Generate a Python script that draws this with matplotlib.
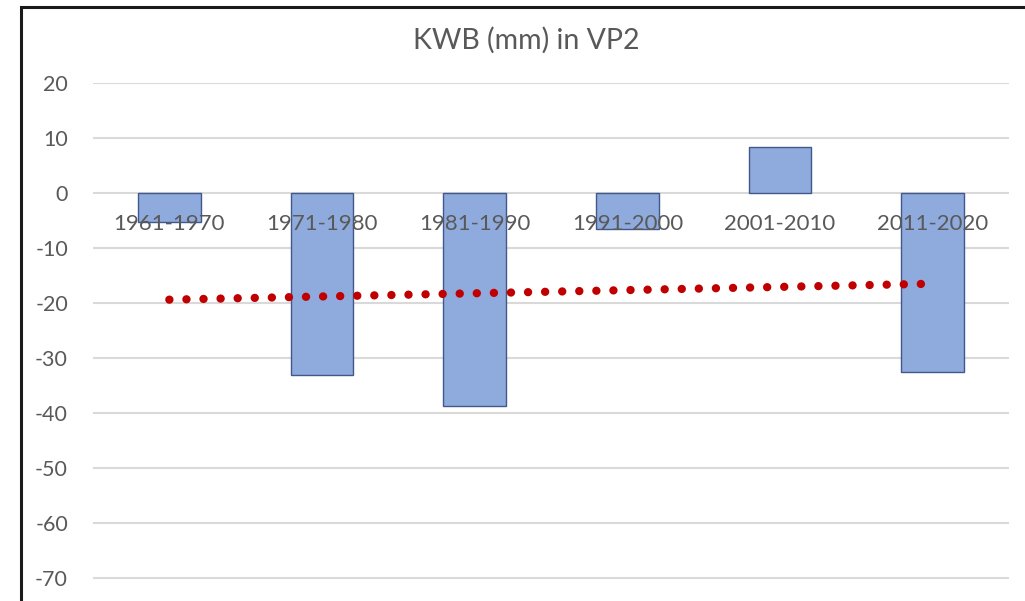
import numpy as np
import matplotlib
matplotlib.use("Agg")
from matplotlib import pyplot as plt
from matplotlib.patches import Rectangle

plt.rcParams['font.family'] = ['Lato', 'DejaVu Sans']

decades = ["1961-1970", "1971-1980", "1981-1990", "1991-2000", "2001-2010", "2011-2020"]
kwb = [-5.2, -33.1, -38.8, -6.5, 8.4, -32.5]
yticks = [20, 10, 0, -10, -20, -30, -40, -50, -60, -70]

x = np.arange(1, len(decades) + 1)
slope, inter = np.polyfit(x, kwb, 1)
trend = slope * x + inter

fig = plt.figure(figsize=(10.25, 6.01), dpi=100)
ax = fig.add_axes([93 / 1025, 0, (1009 - 93) / 1025, 1 - 83 / 601])

ax.bar(x, kwb, width=0.41, color="#8FAADC", edgecolor="#41588A", linewidth=1.0, zorder=3)
ax.plot(x, trend, color="#C00000", linewidth=6.0, linestyle=(0, (0.01, 2.04)),
        dash_capstyle="round", zorder=4)

# category labels sit on the zero line, drawn over the bars
for xi, lab in zip(x, decades):
    ax.text(xi, -5.6, lab, ha="center", va="center", fontsize=16,
            color="#595959", zorder=5)

ax.set_xlim(0.5, len(decades) + 0.5)
ax.set_ylim(-74.2, 20)
ax.set_yticks(yticks)
ax.set_yticklabels([str(v) for v in yticks])
ax.set_xticks([])
ax.grid(axis="y", color="#D9D9D9", linewidth=1.5, zorder=0)
for s in ax.spines.values():
    s.set_visible(False)
ax.tick_params(axis="both", length=0, labelsize=15.5, labelcolor="#595959")
ax.tick_params(axis="y", pad=18)

fig.text(526 / 1025, 1 - 40 / 601, "KWB (mm) in VP2", ha="center", va="center",
         fontsize=20.5, color="#595959")

fig.patches.append(Rectangle((21 / 1025, -0.1), 1.0, 1.1 - 7 / 601,
                             transform=fig.transFigure, fill=False,
                             edgecolor="#1A1A1A", linewidth=2.2))

plt.savefig("out.png", dpi=100)
plt.close()
